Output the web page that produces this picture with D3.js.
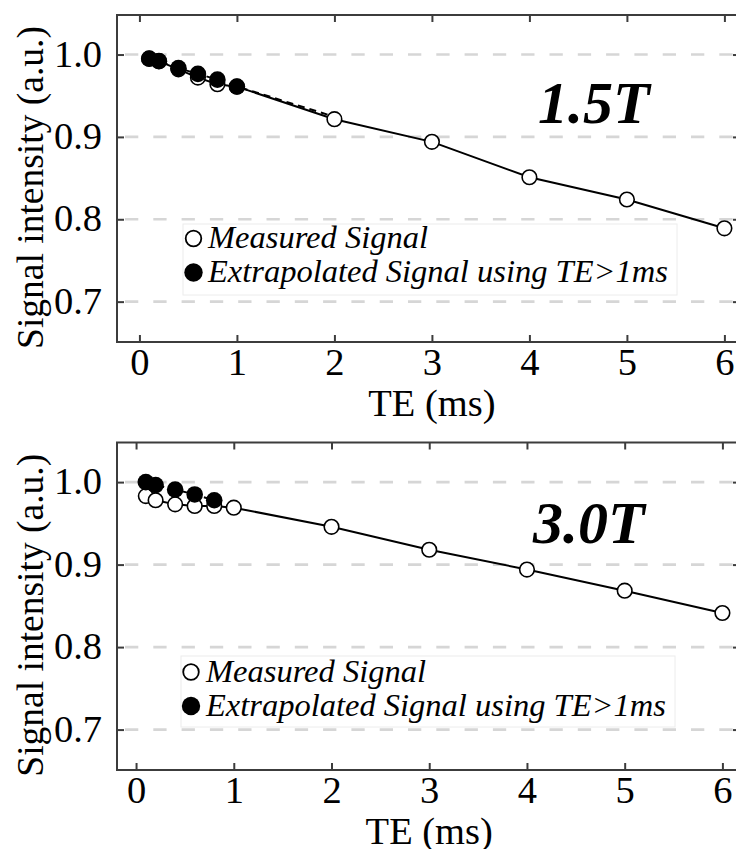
<!DOCTYPE html>
<html>
<head>
<meta charset="utf-8">
<script src="https://cdn.jsdelivr.net/npm/d3@7"></script>
<style>
  html, body { margin: 0; padding: 0; background: #fff; }
  svg { display: block; }
</style>
</head>
<body>
<svg id="chart" width="736" height="849"></svg>
<script>
// Echo times (ms) of the measured images
const teMeasured = [0.1, 0.2, 0.4, 0.6, 0.8, 1, 2, 3, 4, 5, 6];

// 1.5T: measured signal and signal extrapolated from the TE > 1 ms fit
const measured15 = [0.995, 0.992, 0.982, 0.972, 0.964, 0.961, 0.9215, 0.894, 0.851, 0.824, 0.789];
const teExtrap15 = [0.1, 0.2, 0.4, 0.6, 0.8, 1];
const extrap15 = [0.995, 0.992, 0.9835, 0.9765, 0.9695, 0.9612];
const teFit15 = [1, 2];
const fit15 = [0.9612, 0.9245];

// 3.0T: measured signal and extrapolated signal
const measured30 = [0.983, 0.978, 0.973, 0.971, 0.971, 0.969, 0.9458, 0.918, 0.894, 0.8684, 0.8413];
const teExtrap30 = [0.1, 0.2, 0.4, 0.6, 0.8];
const extrap30 = [1.0, 0.9964, 0.991, 0.985, 0.978];

// Axis ticks
const xTicks = [0, 1, 2, 3, 4, 5, 6];
const yTicks = [0.7, 0.8, 0.9, 1.0];
const yTickLabels = ["0.7", "0.8", "0.9", "1.0"];

const legendLabels = ["Measured Signal", "Extrapolated Signal using TE>1ms"];

const FONT = "'Liberation Serif', Tinos, 'Times New Roman', Times, serif";

const svg = d3.select("#chart");

const panels = [
  {
    title: "1.5T",
    measured: measured15,
    teExtrap: teExtrap15, extrap: extrap15,
    teFit: teFit15, fit: fit15,
    left: 117, right: 740, top: 15, bottom: 342,
    xDomain: [-0.23, 6.16],
    titlePos: [538, 123],
    legend: { x: 183, y: 224, w: 494, h: 71, mx: 193.5, tx: 208, row0: 238.5 }
  },
  {
    title: "3.0T",
    measured: measured30,
    teExtrap: teExtrap30, extrap: extrap30,
    teFit: [], fit: [],
    left: 117, right: 740, top: 442.5, bottom: 770,
    xDomain: [-0.195, 6.18],
    titlePos: [533, 543],
    legend: { x: 181, y: 656, w: 494, h: 71, mx: 191, tx: 206, row0: 672 }
  }
];

const yDomain = [0.651, 1.048];

panels.forEach(p => drawPanel(p));

function drawPanel(p) {
  const x = d3.scaleLinear().domain(p.xDomain).range([p.left, p.right]);
  const y = d3.scaleLinear().domain(yDomain).range([p.bottom, p.top]);
  const g = svg.append("g");
  const axisColor = "#3c3c3c";
  const tickLen = 7;

  // dashed horizontal grid
  g.append("g").selectAll("line").data(yTicks).join("line")
    .attr("x1", p.left).attr("x2", p.right)
    .attr("y1", d => y(d)).attr("y2", d => y(d))
    .attr("stroke", "#d6d6d6").attr("stroke-width", 2.6)
    .attr("stroke-dasharray", "13.3,15").attr("stroke-dashoffset", -8);

  // axes with inward ticks (bottom/left labelled, top/right mirrored)
  const xb = d3.axisBottom(x).tickValues(xTicks).tickSize(-tickLen).tickSizeOuter(0).tickPadding(6).tickFormat(d3.format("d"));
  const xt = d3.axisTop(x).tickValues(xTicks).tickSize(-tickLen).tickSizeOuter(0).tickFormat("");
  const yl = d3.axisLeft(y).tickValues(yTicks).tickSize(-tickLen).tickSizeOuter(0).tickPadding(15)
    .tickFormat((d, i) => yTickLabels[i]);
  const yr = d3.axisRight(y).tickValues(yTicks).tickSize(-tickLen).tickSizeOuter(0).tickFormat("");

  const axes = [
    g.append("g").attr("transform", `translate(0,${p.bottom})`).call(xb),
    g.append("g").attr("transform", `translate(0,${p.top})`).call(xt),
    g.append("g").attr("transform", `translate(${p.left},0)`).call(yl),
    g.append("g").attr("transform", `translate(${p.right},0)`).call(yr)
  ];
  axes.forEach(a => {
    a.attr("font-family", null);
    a.select(".domain").remove();
    a.selectAll(".tick line").attr("stroke", axisColor).attr("stroke-width", 2);
    a.selectAll(".tick text").style("font-family", FONT).style("font-size", "38.5px").attr("fill", "#000");
  });
  axes[0].selectAll(".tick text").attr("dy", "0.71em");
  axes[2].selectAll(".tick text").attr("dy", "0.30em");

  // frame
  g.append("rect")
    .attr("x", p.left).attr("y", p.top)
    .attr("width", p.right - p.left).attr("height", p.bottom - p.top)
    .attr("fill", "none").attr("stroke", axisColor).attr("stroke-width", 2);

  // axis titles
  g.append("text")
    .attr("x", (x(0) + x(6)) / 2).attr("y", p.bottom + 74)
    .attr("text-anchor", "middle")
    .style("font-family", FONT).style("font-size", "38.5px")
    .text("TE (ms)");
  g.append("text")
    .attr("transform", `translate(43,${(p.top + p.bottom) / 2 + 9}) rotate(-90)`)
    .attr("text-anchor", "middle")
    .style("font-family", FONT).style("font-size", "37.5px")
    .text("Signal intensity (a.u.)");

  // field strength label
  g.append("text")
    .attr("x", p.titlePos[0]).attr("y", p.titlePos[1])
    .style("font-family", FONT).style("font-size", "60px")
    .style("font-weight", "bold").style("font-style", "italic")
    .text(p.title);

  const line = d3.line().x(d => x(d[0])).y(d => y(d[1]));

  // measured signal curve
  const mPts = teMeasured.map((t, i) => [t, p.measured[i]]);
  g.append("path").attr("d", line(mPts))
    .attr("fill", "none").attr("stroke", "#000").attr("stroke-width", 2);

  // extrapolated signal curve (dashed)
  const ePts = p.teExtrap.map((t, i) => [t, p.extrap[i]])
    .concat(p.teFit.slice(1).map((t, i) => [t, p.fit[i + 1]]));
  g.append("path").attr("d", line(ePts))
    .attr("fill", "none").attr("stroke", "#000").attr("stroke-width", 2)
    .attr("stroke-dasharray", "7,5");

  // measured markers (open)
  g.append("g").selectAll("circle").data(mPts).join("circle")
    .attr("cx", d => x(d[0])).attr("cy", d => y(d[1])).attr("r", 7.3)
    .attr("fill", "#fff").attr("stroke", "#000").attr("stroke-width", 1.6);

  // extrapolated markers (filled)
  g.append("g").selectAll("circle")
    .data(p.teExtrap.map((t, i) => [t, p.extrap[i]])).join("circle")
    .attr("cx", d => x(d[0])).attr("cy", d => y(d[1])).attr("r", 8.3)
    .attr("fill", "#000");

  // legend
  const L = p.legend;
  const lg = g.append("g");
  lg.append("rect").attr("x", L.x).attr("y", L.y).attr("width", L.w).attr("height", L.h)
    .attr("fill", "#fff").attr("stroke", "#ececec").attr("stroke-width", 1);
  legendLabels.forEach((lab, i) => {
    const cy = L.row0 + i * 34;
    lg.append("circle").attr("cx", L.mx).attr("cy", cy)
      .attr("r", i === 0 ? 7.8 : 9.2)
      .attr("fill", i === 0 ? "#fff" : "#000")
      .attr("stroke", i === 0 ? "#000" : "none").attr("stroke-width", 1.8);
    lg.append("text").attr("x", L.tx).attr("y", cy + 9.5)
      .style("font-family", FONT).style("font-size", "32.5px").style("font-style", "italic")
      .text(lab);
  });
}
</script>
</body>
</html>
